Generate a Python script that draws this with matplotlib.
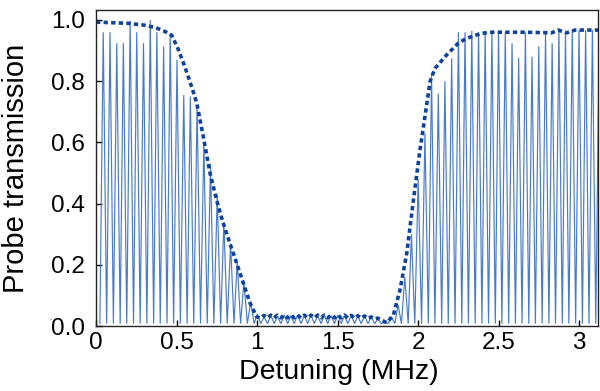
import numpy as np
import matplotlib
matplotlib.use("Agg")
import matplotlib.pyplot as plt

plt.rcParams['font.family'] = ['Liberation Sans', 'DejaVu Sans']

# --- data ---
peak_x = [0.045, 0.087, 0.129, 0.170, 0.212, 0.253, 0.295, 0.337, 0.378, 0.420,
          0.461, 0.503, 0.545, 0.586, 0.628, 0.670, 0.711, 0.753, 0.794, 0.836,
          0.877, 0.919, 0.961, 1.002, 1.044, 1.086, 1.127, 1.169, 1.210, 1.252,
          1.294, 1.335, 1.377, 1.418, 1.460, 1.502, 1.543, 1.585, 1.626, 1.668,
          1.710, 1.751, 1.793, 1.835, 1.876, 1.918, 1.959, 2.001, 2.043, 2.084,
          2.126, 2.167, 2.209, 2.251, 2.292, 2.334, 2.376, 2.417, 2.459, 2.500,
          2.542, 2.584, 2.625, 2.667, 2.708, 2.750, 2.792, 2.833, 2.875, 2.916,
          2.958, 3.000, 3.041, 3.083, 3.124]
peak_y = [0.960, 0.960, 0.924, 0.924, 0.998, 0.960, 0.924, 1.000, 0.960, 0.913,
          0.957, 0.870, 0.755, 0.750, 0.720, 0.600, 0.530, 0.430, 0.340, 0.270,
          0.210, 0.145, 0.080, 0.040, 0.030, 0.034, 0.032, 0.036, 0.034, 0.036,
          0.035, 0.037, 0.034, 0.036, 0.035, 0.036, 0.034, 0.035, 0.033, 0.034,
          0.030, 0.024, 0.012, 0.030, 0.070, 0.160, 0.300, 0.480, 0.630, 0.820,
          0.760, 0.800, 0.875, 0.960, 0.960, 0.965, 0.960, 0.960, 0.960, 0.960,
          0.960, 0.924, 0.876, 0.960, 0.880, 0.914, 0.958, 0.924, 0.969, 0.960,
          0.967, 0.967, 0.967, 0.967, 0.880]
trough_x = [0.024, 0.066, 0.108, 0.150, 0.191, 0.233, 0.274, 0.316, 0.358, 0.399,
            0.441, 0.482, 0.524, 0.566, 0.607, 0.649, 0.691, 0.732, 0.774, 0.815,
            0.857, 0.898, 0.940, 0.982, 1.023, 1.065, 1.107, 1.148, 1.190, 1.231,
            1.273, 1.315, 1.356, 1.398, 1.439, 1.481, 1.523, 1.564, 1.606, 1.647,
            1.689, 1.731, 1.772, 1.814, 1.856, 1.897, 1.939, 1.980, 2.022, 2.064,
            2.105, 2.147, 2.188, 2.230, 2.272, 2.313, 2.355, 2.397, 2.438, 2.480,
            2.521, 2.563, 2.605, 2.646, 2.688, 2.729, 2.771, 2.813, 2.854, 2.896,
            2.937, 2.979, 3.021, 3.062, 3.104]
trough_y = [0.008] * 75

env_x = [0.0, 0.10, 0.20, 0.30, 0.37, 0.43, 0.47, 0.51, 0.55, 0.595,
         0.625, 0.666, 0.708, 0.75, 0.79, 0.832, 0.874, 0.915, 0.957, 0.998,
         1.023, 1.044, 1.065, 1.086, 1.106, 1.127, 1.148, 1.169, 1.190, 1.210,
         1.231, 1.252, 1.273, 1.294, 1.314, 1.335, 1.356, 1.377, 1.398, 1.418,
         1.439, 1.460, 1.481, 1.502, 1.522, 1.543, 1.564, 1.585, 1.606, 1.626,
         1.647, 1.668, 1.689, 1.710, 1.730, 1.751, 1.780, 1.806, 1.847, 1.888,
         1.930, 1.971, 2.012, 2.043, 2.075, 2.106, 2.178, 2.250, 2.292, 2.343,
         2.396, 2.447, 2.665, 2.830, 2.870, 2.924, 2.975, 3.13]
env_y = [0.993, 0.991, 0.989, 0.983, 0.975, 0.962, 0.950, 0.905, 0.850, 0.780,
         0.730, 0.620, 0.500, 0.410, 0.336, 0.270, 0.205, 0.140, 0.075, 0.030,
         0.026, 0.035, 0.027, 0.036, 0.027, 0.036, 0.027, 0.036, 0.027, 0.036,
         0.027, 0.036, 0.027, 0.036, 0.027, 0.036, 0.027, 0.036, 0.027, 0.036,
         0.027, 0.036, 0.027, 0.036, 0.027, 0.036, 0.027, 0.035, 0.026, 0.034,
         0.026, 0.033, 0.025, 0.030, 0.024, 0.026, 0.018, 0.011, 0.036, 0.118,
         0.238, 0.410, 0.575, 0.684, 0.800, 0.842, 0.886, 0.924, 0.937, 0.948,
         0.956, 0.960, 0.960, 0.958, 0.967, 0.958, 0.967, 0.967]

x_ticks = [0, 0.5, 1, 1.5, 2, 2.5, 3]
x_ticklabels = ["0", "0.5", "1", "1.5", "2", "2.5", "3"]
y_ticks = [0.0, 0.2, 0.4, 0.6, 0.8, 1.0]
y_ticklabels = ["0.0", "0.2", "0.4", "0.6", "0.8", "1.0"]

# combine samples of the oscillating trace
sig_x = np.array(peak_x + trough_x)
sig_y = np.array(peak_y + trough_y)
order = np.argsort(sig_x)
sig_x, sig_y = sig_x[order], sig_y[order]

fig = plt.figure(figsize=(6.0, 3.91), dpi=100)
ax = fig.add_axes([0.16, 0.166, 0.8367, 0.808])

ax.plot(sig_x, sig_y, color='#4a7bc8', lw=0.85, solid_joinstyle='miter')
ax.plot(env_x, env_y, color='#0f429c', lw=2.6, linestyle=(0, (1.2, 0.9)),
        dash_capstyle='butt')

ax.set_xlim(0, 3.118)
ax.set_ylim(0, 1.032)
ax.set_xticks(x_ticks)
ax.set_xticklabels(x_ticklabels)
ax.set_yticks(y_ticks)
ax.set_yticklabels(y_ticklabels)
ax.tick_params(direction='in', length=4, width=1, labelsize=17.5,
               top=False, right=False)
ax.tick_params(axis='x', pad=4)
ax.tick_params(axis='y', pad=8)
for s in ax.spines.values():
    s.set_linewidth(1.0)
    s.set_color('#222222')

ax.set_xlabel("Detuning (MHz)", fontsize=20.5)
ax.set_ylabel("Probe transmission", fontsize=21)
ax.xaxis.set_label_coords(0.483, -0.105)
ax.yaxis.set_label_coords(-0.131, 0.498)

fig.text(50 / 600, 1 - 318 / 391, ".", fontsize=6, ha='center', va='center')

fig.savefig("out.png", dpi=100)
